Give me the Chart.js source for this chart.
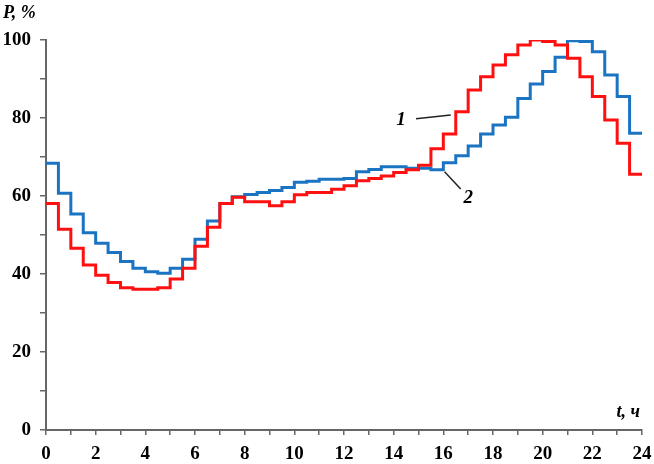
<!DOCTYPE html>
<html>
<head>
<meta charset="utf-8">
<script src="https://cdn.jsdelivr.net/npm/chart.js@4"></script>
<style>
  html, body { margin: 0; padding: 0; background: #fff; }
  #wrap { width: 654px; height: 464px; }
</style>
</head>
<body>
<div id="wrap"><canvas id="chart" width="654" height="464"></canvas></div>
<script>
// half-hour steps, value holds from t[i] to t[i+1]
const times = [0, 0.5, 1, 1.5, 2, 2.5, 3, 3.5, 4, 4.5, 5, 5.5, 6, 6.5, 7, 7.5, 8, 8.5,
  9, 9.5, 10, 10.5, 11, 11.5, 12, 12.5, 13, 13.5, 14, 14.5, 15, 15.5, 16, 16.5, 17, 17.5,
  18, 18.5, 19, 19.5, 20, 20.5, 21, 21.5, 22, 22.5, 23, 23.5, 24];

const load1 = [58.1, 51.5, 46.6, 42.3, 39.7, 37.8, 36.5, 36.1, 36.1, 36.5, 38.7, 41.5,
  47.1, 52.0, 58.1, 59.7, 58.5, 58.5, 57.5, 58.5, 60.3, 60.9, 60.9, 61.7, 62.6, 63.9, 64.5, 65.1,
  66.0, 66.7, 67.9, 72.1, 75.9, 81.6, 87.2, 90.6, 93.6, 96.2, 98.7, 100, 99.6, 98.7, 95.3, 90.6,
  85.5, 79.5, 73.5, 65.6];

const load2 = [68.4, 60.7, 55.4, 50.6, 47.9, 45.5, 43.2, 41.5, 40.6, 40.2, 41.5, 43.8,
  48.9, 53.6, 58.1, 59.8, 60.4, 60.9, 61.4, 62.2, 63.5, 63.8, 64.3, 64.3, 64.5, 66.2, 66.8, 67.5,
  67.5, 67.1, 67.1, 66.7, 68.5, 70.3, 72.8, 75.9, 78.2, 80.2, 85.0, 88.7, 91.9, 95.6, 99.8, 99.6,
  97.0, 91.0, 85.5, 76.1];

const xTicks = [0, 2, 4, 6, 8, 10, 12, 14, 16, 18, 20, 22, 24];
const yTicks = [0, 20, 40, 60, 80, 100];

function toPoints(vals) {
  const pts = vals.map((v, i) => ({ x: times[i], y: v }));
  pts.push({ x: times[vals.length], y: vals[vals.length - 1] });
  return pts;
}

const FONT = "'Liberation Serif', 'Times New Roman', serif";
const AXIS = "#666";

const notes = {
  id: "notes",
  afterDraw(chart) {
    const { ctx, scales: { x, y } } = chart;
    ctx.save();
    ctx.fillStyle = "#000";
    ctx.strokeStyle = "#222";
    ctx.lineWidth = 1.5;

    // leader for curve 1
    ctx.beginPath();
    ctx.moveTo(x.getPixelForValue(14.9), y.getPixelForValue(79.8));
    ctx.lineTo(x.getPixelForValue(16.3), y.getPixelForValue(80.8));
    ctx.stroke();
    // leader for curve 2
    ctx.beginPath();
    ctx.moveTo(x.getPixelForValue(16.05), y.getPixelForValue(66.2));
    ctx.lineTo(x.getPixelForValue(16.7), y.getPixelForValue(61.8));
    ctx.stroke();

    ctx.font = "bold italic 19px " + FONT;
    ctx.textAlign = "center";
    ctx.textBaseline = "middle";
    ctx.fillText("1", x.getPixelForValue(14.3), y.getPixelForValue(79.5));
    ctx.fillText("2", x.getPixelForValue(17.0), y.getPixelForValue(59.5));

    ctx.font = "bold italic 18px " + FONT;
    ctx.textAlign = "left";
    ctx.fillText("P, %", 3, 13);
    ctx.textAlign = "right";
    ctx.fillText("t, ч", 640, 412);
    ctx.restore();
  }
};

new Chart(document.getElementById("chart"), {
  type: "line",
  data: {
    datasets: [
      {
        label: "1",
        data: toPoints(load1),
        borderColor: "#ff1010",
        borderWidth: 3,
        stepped: "before",
        pointRadius: 0,
        fill: false
      },
      {
        label: "2",
        data: toPoints(load2),
        borderColor: "#1b74c2",
        borderWidth: 3,
        stepped: "before",
        pointRadius: 0,
        fill: false
      }
    ]
  },
  options: {
    responsive: false,
    animation: false,
    layout: { padding: { top: 40, right: 2, left: 0, bottom: 0 } },
    plugins: {
      legend: { display: false },
      tooltip: { enabled: false }
    },
    scales: {
      x: {
        type: "linear",
        min: 0,
        max: 24,
        afterFit: s => { s.height = 34; s.paddingRight = 12; },
        border: { color: AXIS, width: 2 },
        grid: { drawOnChartArea: false, drawTicks: true, tickLength: 5, color: AXIS, lineWidth: 1.5 },
        ticks: {
          stepSize: 1,
          autoSkip: false,
          maxRotation: 0,
          padding: 8,
          color: "#000",
          font: { family: FONT, size: 19, weight: "bold" },
          callback: v => xTicks.includes(v) ? v : ""
        }
      },
      y: {
        min: 0,
        max: 100,
        afterFit: s => { s.width = 46; },
        border: { color: AXIS, width: 2 },
        grid: { drawOnChartArea: false, drawTicks: true, tickLength: 6, color: AXIS, lineWidth: 1.5 },
        ticks: {
          stepSize: 10,
          padding: 9,
          color: "#000",
          font: { family: FONT, size: 19, weight: "bold" },
          callback: v => yTicks.includes(v) ? v : ""
        }
      }
    }
  },
  plugins: [notes]
});
</script>
</body>
</html>
